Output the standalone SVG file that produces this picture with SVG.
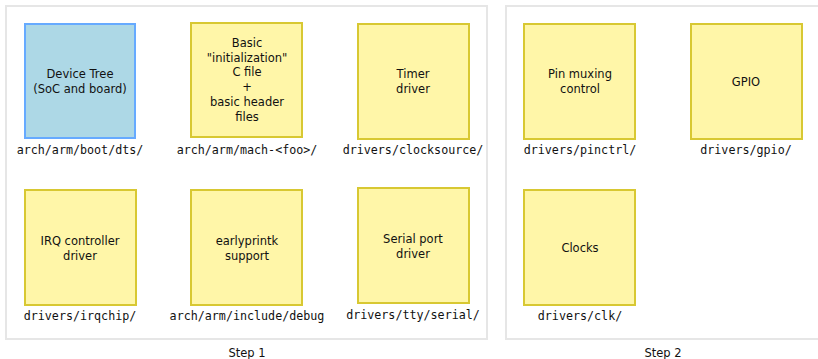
<svg xmlns="http://www.w3.org/2000/svg" width="818" height="359" viewBox="0 0 818 359">
<style>
.frame{fill:#ffffff;stroke:#e6e6e6;stroke-width:2}
.y{fill:#fff6a8;stroke:#d8c832;stroke-width:2}
.b{fill:#add8e6;stroke:#66aaff;stroke-width:2}
.t{font-family:"DejaVu Sans",sans-serif;font-size:11.5px;fill:#111;text-anchor:middle}
.m{font-family:"DejaVu Sans Mono",monospace;font-size:11.7px;fill:#111;text-anchor:middle}
</style>
<rect width="818" height="359" fill="#ffffff"/>
<g id="step1">
<rect class="frame" x="6" y="6" width="481" height="333"/>
<text class="t" x="247" y="357">Step 1</text>
</g>
<g id="step2">
<rect class="frame" x="506" y="6" width="320" height="333"/>
<text class="t" x="663" y="357">Step 2</text>
</g>
<g id="devicetree">
<rect class="b" x="25" y="24" width="110" height="114"/>
<text class="t" x="80" y="78">Device Tree</text>
<text class="t" x="80" y="93">(SoC and board)</text>
<text class="m" x="80" y="154">arch/arm/boot/dts/</text>
</g>
<g id="basic">
<rect class="y" x="191" y="23" width="111" height="114"/>
<text class="t" x="247" y="47">Basic</text>
<text class="t" x="247" y="62">"initialization"</text>
<text class="t" x="247" y="76">C file</text>
<text class="t" x="247" y="91">+</text>
<text class="t" x="247" y="106">basic header</text>
<text class="t" x="247" y="121">files</text>
<text class="m" x="247" y="154">arch/arm/mach-&lt;foo&gt;/</text>
</g>
<g id="timer">
<rect class="y" x="358" y="24" width="111" height="115"/>
<text class="t" x="413" y="78">Timer</text>
<text class="t" x="413" y="93">driver</text>
<text class="m" x="413" y="154">drivers/clocksource/</text>
</g>
<g id="pinmux">
<rect class="y" x="524" y="24" width="111" height="115"/>
<text class="t" x="580" y="78">Pin muxing</text>
<text class="t" x="580" y="93">control</text>
<text class="m" x="580" y="154">drivers/pinctrl/</text>
</g>
<g id="gpio">
<rect class="y" x="691" y="24" width="111" height="115"/>
<text class="t" x="746" y="86">GPIO</text>
<text class="m" x="746" y="154">drivers/gpio/</text>
</g>
<g id="irq">
<rect class="y" x="25" y="190" width="111" height="115"/>
<text class="t" x="80" y="245">IRQ controller</text>
<text class="t" x="80" y="260">driver</text>
<text class="m" x="80" y="320">drivers/irqchip/</text>
</g>
<g id="earlyprintk">
<rect class="y" x="191" y="190" width="111" height="115"/>
<text class="t" x="247" y="245">earlyprintk</text>
<text class="t" x="247" y="260">support</text>
<text class="m" x="247" y="320">arch/arm/include/debug</text>
</g>
<g id="serial">
<rect class="y" x="358" y="188" width="111" height="115"/>
<text class="t" x="413" y="243">Serial port</text>
<text class="t" x="413" y="258">driver</text>
<text class="m" x="413" y="319">drivers/tty/serial/</text>
</g>
<g id="clocks">
<rect class="y" x="524" y="190" width="111" height="115"/>
<text class="t" x="580" y="252">Clocks</text>
<text class="m" x="580" y="320">drivers/clk/</text>
</g>
<g id="connectors"></g>
</svg>
